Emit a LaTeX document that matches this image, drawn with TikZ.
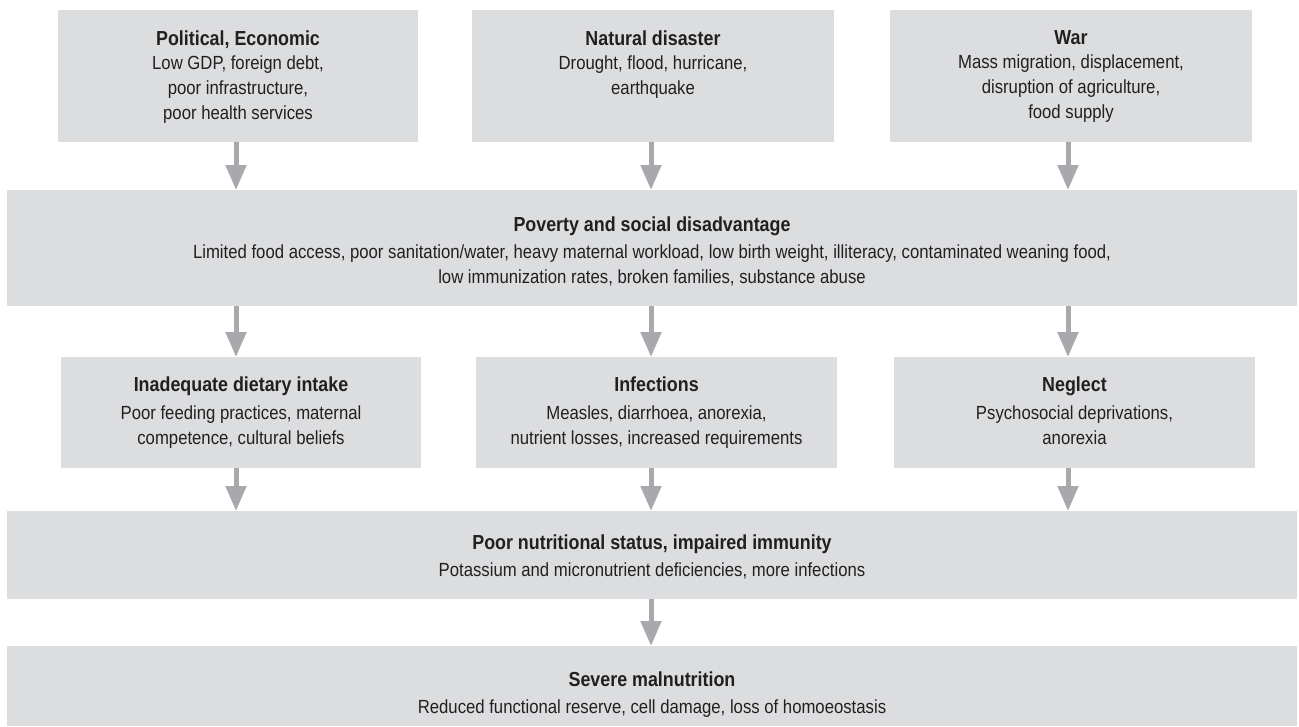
\documentclass[tikz,border=0pt]{standalone}
\usepackage{fontspec}
\setmainfont{Liberation Sans}[FakeStretch=0.88]
\usetikzlibrary{arrows.meta}
\definecolor{boxfill}{HTML}{DCDDDF}
\definecolor{arrowgray}{HTML}{A7A9AC}
\definecolor{inkdark}{HTML}{231F20}
\newcommand{\ttl}[1]{{\fontsize{20.3}{25}\selectfont\bfseries #1}}
\tikzset{
  box/.style={fill=boxfill, draw=none, inner sep=0pt, outer sep=0pt},
  txt/.style={anchor=north, inner sep=0pt, align=center, text=inkdark,
    font=\fontsize{19}{25}\selectfont},
  flow/.style={draw=arrowgray, line width=5pt, -{Triangle[width=20pt,length=25pt]}}
}
\begin{document}
\begin{tikzpicture}[x=1pt,y=-1pt]
\useasboundingbox (0,0) rectangle (1299,726);
% columns of the vertical flow arrows
\coordinate (c1) at (236,0);
\coordinate (c2) at (651,0);
\coordinate (c3) at (1068,0);

% top row: root causes
\node[box, minimum width=360pt, minimum height=132pt] (A1) at (238,76) {};
\node[box, minimum width=362pt, minimum height=132pt] (A2) at (653,76) {};
\node[box, minimum width=362pt, minimum height=132pt] (A3) at (1071,76) {};
\node[txt] (A1t) at ([yshift=-20.5pt]A1.north) {\ttl{Political, Economic}\\[-1pt]
  Low GDP, foreign debt,\\ poor infrastructure,\\ poor health services};
\node[txt] (A2t) at ([yshift=-20.5pt]A2.north) {\ttl{Natural disaster}\\[-1pt]
  Drought, flood, hurricane,\\ earthquake};
\node[txt] (A3t) at ([yshift=-20.5pt]A3.north) {\ttl{War}\\[-1pt]
  Mass migration, displacement,\\ disruption of agriculture,\\ food supply};

% poverty band
\node[box, minimum width=1290pt, minimum height=116pt] (P) at (652,248) {};
\node[txt] (Pt) at ([yshift=-27pt]P.north) {\ttl{Poverty and social disadvantage}\\[2pt]
  Limited food access, poor sanitation/water, heavy maternal workload, low birth weight, illiteracy, contaminated weaning food,\\
  low immunization rates, broken families, substance abuse};

% middle row: immediate causes
\node[box, minimum width=360pt, minimum height=111pt] (B1) at (241,412.5) {};
\node[box, minimum width=361pt, minimum height=111pt] (B2) at (656.5,412.5) {};
\node[box, minimum width=361pt, minimum height=111pt] (B3) at (1074.5,412.5) {};
\node[txt] (B1t) at ([yshift=-20pt]B1.north) {\ttl{Inadequate dietary intake}\\[3pt]
  Poor feeding practices, maternal\\ competence, cultural beliefs};
\node[txt] (B2t) at ([yshift=-20pt]B2.north) {\ttl{Infections}\\[3pt]
  Measles, diarrhoea, anorexia,\\ nutrient losses, increased requirements};
\node[txt] (B3t) at ([yshift=-20pt]B3.north) {\ttl{Neglect}\\[3pt]
  Psychosocial deprivations,\\ anorexia};

% nutritional status band
\node[box, minimum width=1290pt, minimum height=88pt] (N) at (652,555) {};
\node[txt] (Nt) at ([yshift=-24pt]N.north) {\ttl{Poor nutritional status, impaired immunity}\\[2pt]
  Potassium and micronutrient deficiencies, more infections};

% outcome band
\node[box, minimum width=1290pt, minimum height=80pt] (S) at (652,686) {};
\node[txt] (St) at ([yshift=-26pt]S.north) {\ttl{Severe malnutrition}\\[2pt]
  Reduced functional reserve, cell damage, loss of homoeostasis};

% arrows
\draw[flow] (A1.south -| c1) -- (P.north -| c1);
\draw[flow] (A2.south -| c2) -- (P.north -| c2);
\draw[flow] (A3.south -| c3) -- (P.north -| c3);
\draw[flow] (P.south -| c1) -- (B1.north -| c1);
\draw[flow] (P.south -| c2) -- (B2.north -| c2);
\draw[flow] (P.south -| c3) -- (B3.north -| c3);
\draw[flow] (B1.south -| c1) -- (N.north -| c1);
\draw[flow] (B2.south -| c2) -- (N.north -| c2);
\draw[flow] (B3.south -| c3) -- (N.north -| c3);
\draw[flow] (N.south -| c2) -- (S.north -| c2);
\end{tikzpicture}
\end{document}
